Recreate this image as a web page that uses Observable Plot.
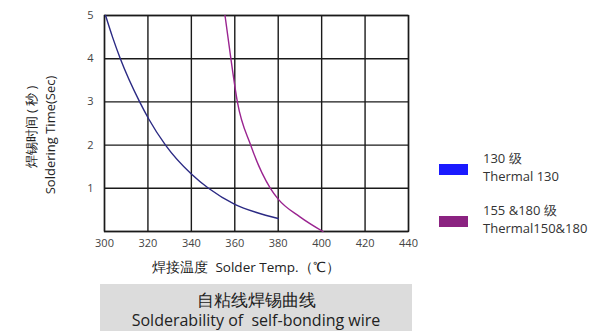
<!DOCTYPE html>
<html><head><meta charset="utf-8">
<script src="https://cdn.jsdelivr.net/npm/d3@7"></script>
<script src="https://cdn.jsdelivr.net/npm/@observablehq/plot@0.6"></script>
<style>
html,body{margin:0;padding:0;background:#fff;}
#chart{position:relative;width:593px;height:331px;overflow:hidden;font-family:"Open Sans",sans-serif;}
</style></head>
<body><div id="chart"></div>
<script>
// data
const xTicks = [300, 320, 340, 360, 380, 400, 420, 440];
const yTicks = [1, 2, 3, 4, 5];
const seriesNames = ["Thermal 130", "Thermal150&180"];
const seriesLegendCn = ["130 级", "155 &180 级"];
const seriesLegendEn = ["Thermal 130", "Thermal150&180"];
const lineColors = ["#2b2a84", "#9a2490"];
const legendColors = ["#1a1aff", "#8b2381"];
const t130Temps = [300.5, 303.7, 307.3, 316.2, 320.3, 328.1, 340, 347.9, 360, 370, 380];
const t130Times = [5, 4.5, 4, 3, 2.61, 2, 1.33, 1, 0.63, 0.44, 0.3];
const t180Temps = [355.5, 358.2, 361.2, 367.3, 376.4, 380, 390, 400.6];
const t180Times = [5, 4, 3, 2, 1, 0.75, 0.34, 0];

const rows = [
  ...t130Temps.map((t, i) => ({temp: t, time: t130Times[i], series: seriesNames[0]})),
  ...t180Temps.map((t, i) => ({temp: t, time: t180Times[i], series: seriesNames[1]}))
];

const W = 593, H = 331;
const plot = Plot.plot({
  width: W, height: H,
  marginLeft: 104, marginRight: 185, marginTop: 15, marginBottom: 100,
  style: {fontFamily: "'Open Sans', sans-serif", background: "#fff"},
  x: {domain: [300, 440], ticks: xTicks, label: null},
  y: {domain: [0, 5], ticks: yTicks, label: null},
  color: {domain: seriesNames, range: lineColors},
  marks: [
    Plot.ruleX(xTicks, {stroke: "#1a1a1a", strokeWidth: 1.4}),
    Plot.ruleY([0, ...yTicks], {stroke: "#1a1a1a", strokeWidth: 1.4}),
    Plot.frame({stroke: "#1a1a1a", strokeWidth: 1.4}),
    Plot.line(rows, {x: "temp", y: "time", stroke: "series", z: "series", curve: "monotone-x", strokeWidth: 1.4}),
    Plot.axisX({ticks: xTicks, tickSize: 0, tickPadding: 8, fontSize: 11, fill: "#444", label: null, tickFormat: "d"}),
    Plot.axisY({ticks: yTicks, tickSize: 0, tickPadding: 11, fontSize: 11, fill: "#444", label: null, tickFormat: "d"})
  ]
});
document.getElementById("chart").appendChild(plot);

const svg = d3.select(plot);
const font = "'Open Sans', sans-serif";
// y axis title
svg.append("text").attr("transform", "translate(36,127) rotate(-90)")
  .attr("font-family", font).attr("fill", "#222").attr("text-anchor", "middle").attr("font-size", 13)
  .text("焊锡时间 ( 秒 )");
svg.append("text").attr("transform", "translate(55,135) rotate(-90)")
  .attr("font-family", font).attr("fill", "#222").attr("text-anchor", "middle").attr("font-size", 13)
  .text("Soldering Time(Sec)");
// x axis title
svg.append("text").attr("x", 246).attr("y", 272).attr("text-anchor", "middle")
  .attr("font-family", font).attr("font-size", 13.5).attr("fill", "#222")
  .text("焊接温度  Solder Temp.（℃）");
// legend
const ly = [164, 216];
seriesNames.forEach((s, i) => {
  svg.append("rect").attr("x", 439).attr("y", ly[i]).attr("width", 29).attr("height", 11).attr("fill", legendColors[i]);
  svg.append("text").attr("x", 483).attr("y", ly[i] - 1).attr("text-anchor", "start").attr("font-family", font).attr("font-size", 13).attr("fill", "#333").text(seriesLegendCn[i]);
  svg.append("text").attr("x", 483).attr("y", ly[i] + 17).attr("text-anchor", "start").attr("font-family", font).attr("font-size", 13).attr("fill", "#333").text(seriesLegendEn[i]);
});
// caption box
svg.append("rect").attr("x", 100).attr("y", 284).attr("width", 312).attr("height", 47).attr("fill", "#dcdcdc");
svg.append("text").attr("x", 256).attr("y", 306).attr("text-anchor", "middle").attr("font-family", font)
  .attr("font-size", 17).attr("fill", "#222").text("自粘线焊锡曲线");
svg.append("text").attr("x", 256).attr("y", 326).attr("text-anchor", "middle").attr("font-family", font)
  .attr("font-size", 16).attr("fill", "#222").text("Solderability of  self-bonding wire");
</script></body></html>
